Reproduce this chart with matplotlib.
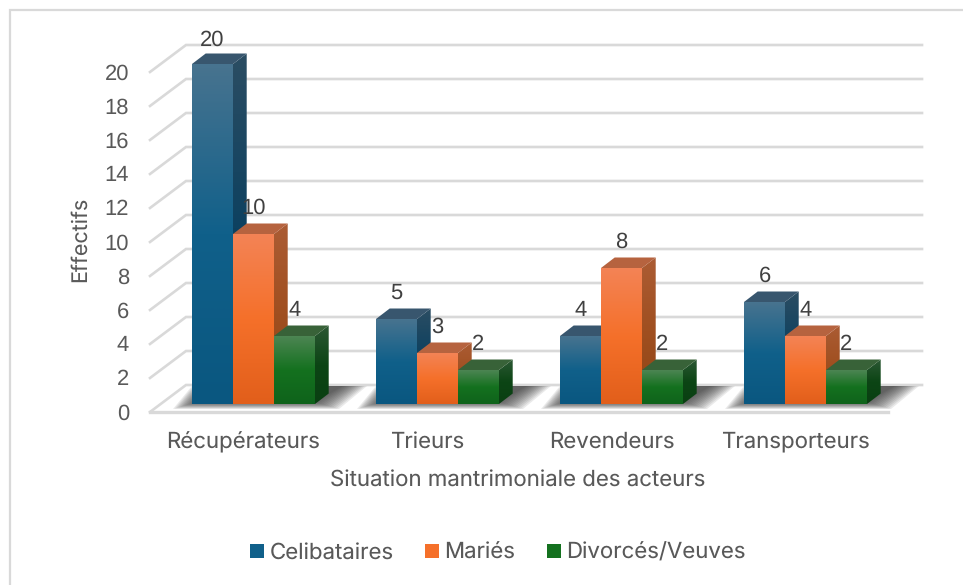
import numpy as np
import matplotlib.pyplot as plt
from matplotlib.colors import LinearSegmentedColormap
from matplotlib.lines import Line2D
from matplotlib.patches import Patch, Polygon
from matplotlib.transforms import ScaledTranslation

categories = ['Récupérateurs', 'Trieurs', 'Revendeurs', 'Transporteurs']
series = ['Celibataires', 'Mariés', 'Divorcés/Veuves']
celibataires = [20, 5, 4, 6]
maries = [10, 3, 8, 4]
divorces = [4, 2, 2, 2]
yticks = list(range(0, 21, 2))

# front, side, top colours (light to dark, top of the bar to its base)
blue = (['#47738f', '#10608a', '#0a5780'], ['#2b4d63', '#0d4160', '#0b3b57'], '#38566e')
orange = (['#f38355', '#f5702a', '#e25f1b'], ['#ab5c34', '#a04f20', '#8f4515'], '#b6633f')
green = (['#4c8552', '#14711f', '#0f631b'], ['#2c5834', '#0c4515', '#0a3f12'], '#386238')
styles = [blue, orange, green]

GREY = '#595959'
GRID = '#d9d9d9'
NUM_FONT = 'Liberation Sans'
TXT_FONT = 'Inter'

plt.rcParams['text.hinting'] = 'no_hinting'
plt.rcParams['text.hinting_factor'] = 1

W, H = 963, 585
PX_X = 1 / 184  # one pixel in category units
PX_Y = 1 / 17   # one pixel in value units
BAR_W = 41 * PX_X
DEPTH_X = 13.7 * PX_X
DEPTH_Y = 10.5 * PX_Y
WALL_Y = 19 * PX_Y
TICK_Y = -8 * PX_Y

fig = plt.figure(figsize=(W / 100, H / 100), dpi=100)
ax = fig.add_axes([150 / W, (H - 404) / H, 772 / W, 359 / H])
ax.patch.set_visible(False)


def shade(stops, pts, zorder):
    pts = np.array(pts)
    cmap = LinearSegmentedColormap.from_list('bar', stops)
    extent = (pts[:, 0].min(), pts[:, 0].max(), pts[:, 1].min(), pts[:, 1].max())
    im = ax.imshow(np.linspace(0, 1, 64).reshape(-1, 1), cmap=cmap, extent=extent, origin='upper',
                   aspect='auto', interpolation='bilinear', zorder=zorder)
    poly = Polygon(pts, transform=ax.transData, fc='none', ec='none')
    ax.add_patch(poly)
    im.set_clip_path(poly)


def bar3d(left, value, style, zorder):
    front, side, top = style
    right = left + BAR_W
    shade(side, [(right, 0), (right + DEPTH_X, DEPTH_Y), (right + DEPTH_X, value + DEPTH_Y), (right, value)], zorder)
    ax.add_patch(Polygon([(left, value), (left + DEPTH_X, value + DEPTH_Y), (right + DEPTH_X, value + DEPTH_Y),
                          (right, value)], fc=top, ec='none', zorder=zorder, clip_on=False))
    shade(front, [(left, 0), (right, 0), (right, value), (left, value)], zorder + 0.1)


# plot box: back wall, side ticks and floor
x0, x1 = -103.5 * PX_X, 668.5 * PX_X
floor_right = x1 - 34 * PX_X
for v in yticks:
    ax.plot([x0, x0 + 36 * PX_X, x1], [v + TICK_Y, v + WALL_Y, v + WALL_Y], color=GRID, lw=1.9,
            solid_joinstyle='miter', clip_on=False, zorder=1)
ax.plot([x0, floor_right], [TICK_Y, TICK_Y], color=GRID, lw=2.4, clip_on=False, zorder=1)

# soft floor shadow behind each group
for i in range(len(categories)):
    gl = i - 1.5 * BAR_W
    gr = i + 1.5 * BAR_W
    for k in range(13):
        s = k * 2 * PX_X
        low = (-5 + k * 0.6) * PX_Y
        ax.add_patch(Polygon([(gl - 19 * PX_X + s, low), (gl + s * 0.7, 18 * PX_Y), (gr + 52 * PX_X - s, 18 * PX_Y),
                              (gr + 24 * PX_X - s, low)], fc='#333333', ec='none', alpha=0.1, zorder=2,
                             clip_on=False))

# bars, left to right so that the next bar covers the previous side face
label_top = 364 * PX_Y
for i in range(len(categories)):
    for j, vals in enumerate([celibataires, maries, divorces]):
        left = i + (j - 1.5) * BAR_W
        bar3d(left, vals[i], styles[j], 3 + i + j * 0.2)
        ax.text(left + BAR_W / 2, min(vals[i] + 25.5 * PX_Y, label_top), str(vals[i]), ha='center', va='center',
                color='#404040', fontsize=15.5, family=NUM_FONT, zorder=10)

ax.set_xlim(x0, x1)
ax.set_ylim(0, 359 * PX_Y)

ax.set_xticks(range(len(categories)))
ax.set_xticklabels(categories, fontsize=16, family=TXT_FONT, color=GREY)
ax.set_yticks(yticks)
ax.set_yticklabels([str(v) for v in yticks], fontsize=15.5, family=NUM_FONT, color=GREY)
ax.tick_params(axis='both', length=0)
ax.tick_params(axis='x', pad=20)
ax.tick_params(axis='y', pad=15)
for s in ax.spines.values():
    s.set_visible(False)

xshift = ScaledTranslation(-10 / 100, 0, fig.dpi_scale_trans)
for lab in ax.get_xticklabels():
    lab.set_transform(lab.get_transform() + xshift)
yshift = ScaledTranslation(0, -7.5 / 100, fig.dpi_scale_trans)
for lab in ax.get_yticklabels():
    lab.set_transform(lab.get_transform() + yshift)

ax.set_xlabel('Situation mantrimoniale des acteurs', fontsize=16, family=TXT_FONT, color=GREY)
ax.xaxis.set_label_coords((518 - 150) / 772, -(480 - 404) / 359, transform=ax.transAxes)
ax.xaxis.label.set_va('center')
ax.set_ylabel('Effectifs', fontsize=15.5, family=TXT_FONT, color=GREY)
ax.yaxis.set_label_coords((80 - 150) / 772, (404 - 239) / 359, transform=ax.transAxes)
ax.yaxis.label.set_va('center')

handles = [Patch(fc=st[0][1], ec='none', label=name) for st, name in zip(styles, series)]
ax.legend(handles=handles, ncol=3, frameon=False, loc='center', bbox_to_anchor=(498 / W, (H - 553) / H),
          bbox_transform=fig.transFigure, prop={'family': TXT_FONT, 'size': 16}, labelcolor=GREY,
          handlelength=0.63, handleheight=0.63, handletextpad=0.25, columnspacing=1.4, borderpad=0)

# chart frame, only the top and left edges fall inside the picture
fig.add_artist(Line2D([10 / W, 10 / W, 1], [0, 1 - 10 / H, 1 - 10 / H], color=GRID, lw=1.6, solid_joinstyle='miter'))

fig.savefig('out.png', dpi=100)
